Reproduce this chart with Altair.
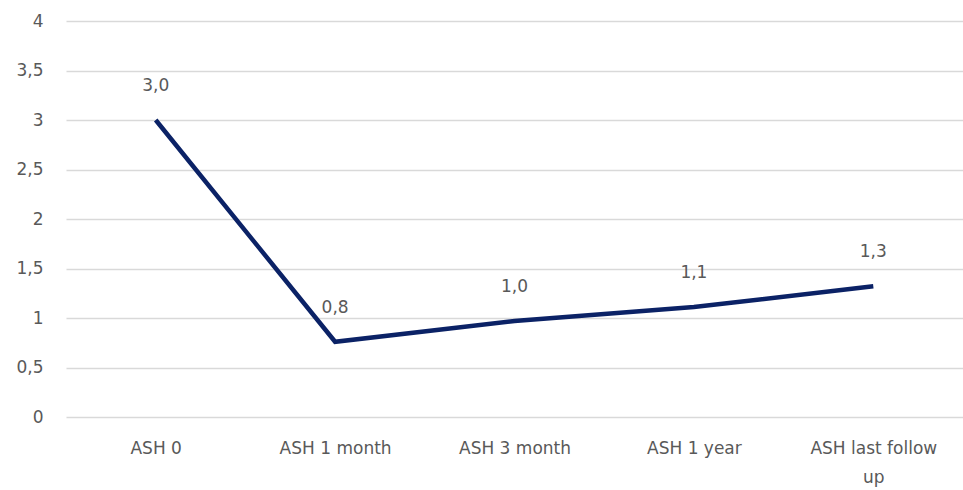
import altair as alt
import pandas as pd

categories = ["ASH 0", "ASH 1 month", "ASH 3 month", "ASH 1 year", "ASH last follow up"]
values = [3.0, 0.76, 0.97, 1.11, 1.32]

df = pd.DataFrame({"cat": categories, "value": values})

FONT = "DejaVu Sans"
GRAY = "#595959"

x = alt.X("cat:N", sort=categories, title=None,
          scale=alt.Scale(paddingOuter=0.5, paddingInner=0),
          axis=alt.Axis(labelAngle=0, domain=False, ticks=False, grid=False,
                        labelPadding=23, labelFont=FONT, labelFontSize=17,
                        labelColor=GRAY, labelLineHeight=29,
                        labelExpr="datum.label == 'ASH last follow up' ? ['ASH last follow', 'up'] : datum.label"))
y = alt.Y("value:Q", title=None,
          scale=alt.Scale(domain=[0, 4], nice=False),
          axis=alt.Axis(values=[0, 0.5, 1, 1.5, 2, 2.5, 3, 3.5, 4], domain=False, ticks=False,
                        gridColor="#d9d9d9", gridWidth=1.5, labelPadding=23,
                        labelFont=FONT, labelFontSize=17, labelColor=GRAY,
                        labelExpr="replace(format(datum.value, '~g'), '.', ',')"))

base = alt.Chart(df).encode(x=x, y=y)

line = base.mark_line(color="#0b2266", strokeWidth=4.5)
text = base.transform_calculate(
    lbl="replace(format(datum.value, '.1f'), '.', ',')"
).mark_text(dy=-34, font=FONT, fontSize=17, color=GRAY).encode(text="lbl:N")

chart = (line + text).properties(
    width=897, height=396,
    padding={"left": 66, "top": 21, "right": 0, "bottom": 73},
    autosize=alt.AutoSizeParams(type="none"),
    background="white",
).configure_view(stroke=None)

chart.save("out.html", embed_options={"renderer": "svg", "actions": False})
